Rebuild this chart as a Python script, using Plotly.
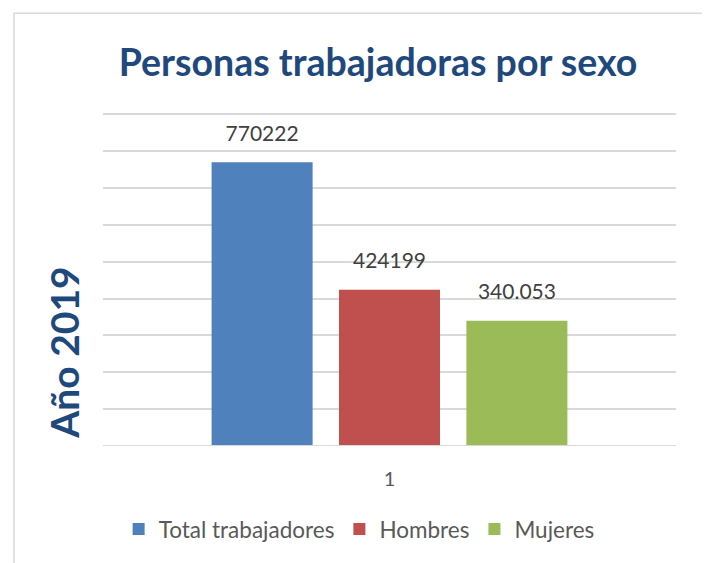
import plotly.graph_objects as go

categories = ["1"]
series_names = ["Total trabajadores", "Hombres", "Mujeres"]
series_values = [[770222], [424199], [340053]]
label_texts = ["770222", "424199", "340.053"]
colors = ["#4F81BD", "#C0504D", "#9BBB59"]
y_ticks = [0, 100000, 200000, 300000, 400000, 500000, 600000, 700000, 800000, 900000]

FONT = "Lato"
W, H = 702, 555          # page body has an 8px margin
L, R, B = 95, 34, 114
PLOT_H = 334 * 950000 / 900000
T = H - B - PLOT_H

fig = go.Figure()
for name, vals, lab, col in zip(series_names, series_values, label_texts, colors):
    fig.add_trace(go.Bar(
        x=categories, y=vals, name=name, marker=dict(color=col, line=dict(width=0)),
        text=["<span style='font-size:21px'>" + lab + "</span><br> "],
        textposition="outside", cliponaxis=False, constraintext="none",
        textfont=dict(family=FONT, size=12, color="#404040"),
    ))

fig.update_layout(
    width=W, height=H,
    margin=dict(l=L, r=R, t=T, b=B),
    paper_bgcolor="white", plot_bgcolor="white",
    barmode="group", bargap=0.333, bargroupgap=0.207,
    title=dict(text="<b>Personas trabajadoras por sexo</b>", x=370 / W, xanchor="center",
               y=1 - 55 / H, yanchor="middle",
               font=dict(family=FONT, size=37.5, color="#1F497D")),
    showlegend=True,
    legend=dict(orientation="h", x=0.447, xanchor="center", y=(441 - 525) / PLOT_H, yanchor="middle",
                font=dict(family=FONT, size=22.5, color="#595959"), traceorder="normal",
                itemwidth=30),
    xaxis=dict(showgrid=False, showline=False, zeroline=False, ticks="",
               tickfont=dict(family=FONT, size=20, color="#595959"), ticklabelstandoff=19),
    yaxis=dict(range=[0, 950000], tickvals=y_ticks, showticklabels=False, showgrid=True,
               gridcolor="#D9D9D9", gridwidth=1.5, zeroline=False, showline=False),
)
fig.add_annotation(text="<b>Año 2019</b>", textangle=-90, xref="paper", yref="paper",
                   x=(56 - L) / 573, y=(441 - 347) / PLOT_H, xanchor="center", yanchor="middle",
                   showarrow=False, font=dict(family=FONT, size=39, color="#1F497D"))
fig.add_shape(type="line", xref="paper", yref="y", x0=0, x1=1, y0=0, y1=0,
              line=dict(color="#D9D9D9", width=2), layer="above")
fig.add_shape(type="rect", xref="paper", yref="paper",
              x0=(6 - L) / 573, x1=(697 - L) / 573,
              y0=(441 - 570) / PLOT_H, y1=(441 - 5) / PLOT_H,
              line=dict(color="#D9D9D9", width=1.5), fillcolor="rgba(0,0,0,0)", layer="below")

fig.write_html("out.html")
